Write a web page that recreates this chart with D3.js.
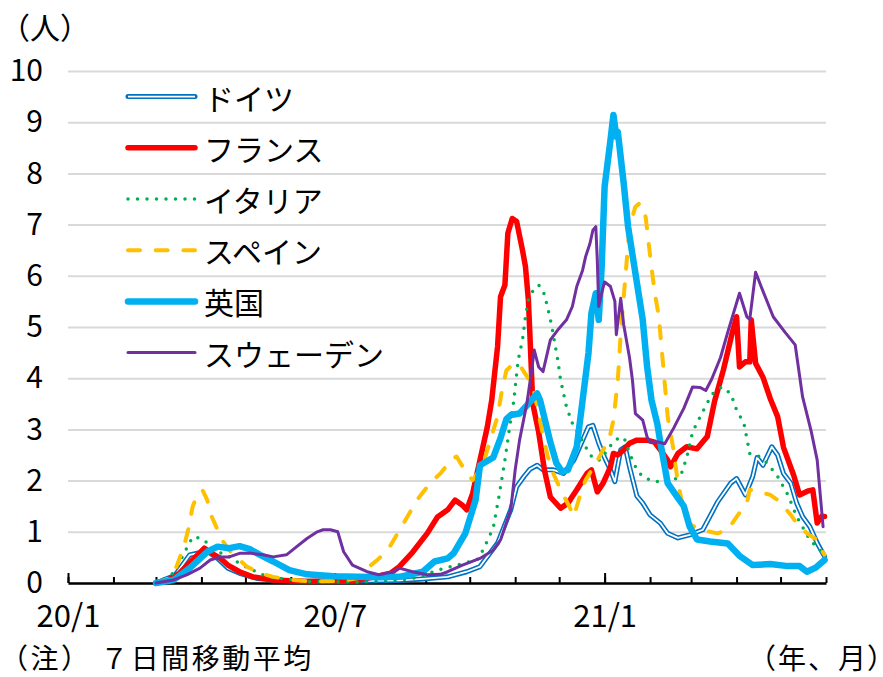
<!DOCTYPE html>
<html>
<head>
<meta charset="utf-8">
<script src="https://cdn.jsdelivr.net/npm/d3@7"></script>
<style>
  body { margin: 0; background: #fff; }
  svg text { font-family: "Noto Sans CJK JP", "Noto Sans", sans-serif; fill: #000; }
  .tight { font-feature-settings: "palt"; }
</style>
</head>
<body>
<div id="chart"></div>
<script>
// series names in legend / drawing order
var seriesNames = ["ドイツ", "フランス", "イタリア", "スペイン", "英国", "スウェーデン"];

// 7-day moving average, [date, value]
var germany = [["2020-03-01",0.00],["2020-03-14",0.15],["2020-03-24",0.55],["2020-03-29",0.58],["2020-04-05",0.62],["2020-04-12",0.48],["2020-04-19",0.29],["2020-04-27",0.19],["2020-05-09",0.09],["2020-05-31",0.04],["2020-07-05",0.03],["2020-08-14",0.05],["2020-08-30",0.08],["2020-09-16",0.12],["2020-09-29",0.22],["2020-10-08",0.32],["2020-10-20",0.78],["2020-10-29",1.43],["2020-11-02",1.88],["2020-11-07",2.08],["2020-11-11",2.22],["2020-11-16",2.30],["2020-11-20",2.21],["2020-11-27",2.21],["2020-12-04",2.14],["2020-12-11",2.40],["2020-12-17",2.79],["2020-12-21",3.05],["2020-12-24",3.08],["2020-12-28",2.73],["2021-01-01",2.45],["2021-01-05",2.21],["2021-01-08",1.98],["2021-01-12",2.60],["2021-01-15",2.66],["2021-01-18",2.27],["2021-01-23",1.70],["2021-01-27",1.56],["2021-02-01",1.33],["2021-02-08",1.17],["2021-02-13",0.97],["2021-02-20",0.88],["2021-02-28",0.94],["2021-03-09",1.04],["2021-03-19",1.58],["2021-03-28",1.95],["2021-04-01",2.04],["2021-04-07",1.72],["2021-04-12",2.08],["2021-04-15",2.45],["2021-04-19",2.30],["2021-04-25",2.66],["2021-04-29",2.50],["2021-05-03",2.14],["2021-05-08",1.95],["2021-05-12",1.56],["2021-05-16",1.30],["2021-05-21",1.10],["2021-05-26",0.78],["2021-05-31",0.52]];

var france = [["2020-03-01",0.00],["2020-03-09",0.05],["2020-03-17",0.19],["2020-03-28",0.51],["2020-04-03",0.68],["2020-04-08",0.58],["2020-04-14",0.48],["2020-04-19",0.35],["2020-04-27",0.22],["2020-05-06",0.12],["2020-05-20",0.06],["2020-06-12",0.03],["2020-07-16",0.05],["2020-07-31",0.14],["2020-08-08",0.19],["2020-08-14",0.32],["2020-08-23",0.60],["2020-09-02",0.97],["2020-09-09",1.29],["2020-09-16",1.43],["2020-09-21",1.62],["2020-09-26",1.52],["2020-09-29",1.43],["2020-10-03",1.75],["2020-10-08",2.40],["2020-10-13",3.05],["2020-10-16",3.57],["2020-10-20",4.62],["2020-10-22",5.59],["2020-10-25",5.82],["2020-10-27",6.83],["2020-10-30",7.12],["2020-11-02",7.06],["2020-11-06",6.50],["2020-11-08",6.18],["2020-11-10",5.53],["2020-11-11",4.88],["2020-11-13",3.50],["2020-11-17",2.95],["2020-11-21",2.20],["2020-11-25",1.68],["2020-12-02",1.46],["2020-12-07",1.56],["2020-12-13",1.82],["2020-12-20",2.14],["2020-12-23",2.21],["2020-12-27",1.78],["2020-12-31",1.95],["2021-01-05",2.27],["2021-01-07",2.53],["2021-01-10",2.50],["2021-01-14",2.60],["2021-01-18",2.73],["2021-01-23",2.79],["2021-01-30",2.79],["2021-02-04",2.75],["2021-02-08",2.60],["2021-02-13",2.40],["2021-02-15",2.27],["2021-02-20",2.53],["2021-02-26",2.66],["2021-03-05",2.62],["2021-03-12",2.86],["2021-03-17",3.55],["2021-03-23",4.16],["2021-03-29",4.88],["2021-04-01",5.20],["2021-04-03",4.22],["2021-04-07",4.32],["2021-04-10",4.32],["2021-04-11",5.14],["2021-04-14",4.29],["2021-04-19",4.02],["2021-04-24",3.60],["2021-04-29",3.25],["2021-05-03",2.65],["2021-05-10",2.10],["2021-05-14",1.72],["2021-05-20",1.80],["2021-05-23",1.82],["2021-05-26",1.17],["2021-05-29",1.30],["2021-05-31",1.30]];

var italy = [["2020-03-01",0.00],["2020-03-04",0.06],["2020-03-11",0.14],["2020-03-14",0.25],["2020-03-19",0.51],["2020-03-22",0.68],["2020-03-26",0.90],["2020-04-01",0.87],["2020-04-05",0.78],["2020-04-09",0.64],["2020-04-18",0.55],["2020-04-27",0.38],["2020-05-06",0.25],["2020-05-16",0.12],["2020-05-25",0.09],["2020-06-12",0.03],["2020-07-18",0.02],["2020-08-14",0.05],["2020-08-28",0.12],["2020-09-09",0.25],["2020-09-26",0.38],["2020-10-06",0.45],["2020-10-10",0.64],["2020-10-17",1.07],["2020-10-21",1.70],["2020-10-25",2.40],["2020-10-28",3.00],["2020-10-31",3.55],["2020-11-03",4.35],["2020-11-06",4.75],["2020-11-08",5.20],["2020-11-10",5.53],["2020-11-13",5.70],["2020-11-17",5.82],["2020-11-20",5.72],["2020-11-23",5.40],["2020-11-26",5.01],["2020-11-30",4.36],["2020-12-02",3.96],["2020-12-06",3.44],["2020-12-10",3.12],["2020-12-14",2.92],["2020-12-19",2.66],["2020-12-24",2.43],["2020-12-29",2.40],["2021-01-03",2.60],["2021-01-07",2.76],["2021-01-12",2.86],["2021-01-15",2.79],["2021-01-18",2.53],["2021-01-23",2.21],["2021-01-27",2.08],["2021-02-03",1.98],["2021-02-08",1.98],["2021-02-15",1.98],["2021-02-22",2.10],["2021-02-26",2.45],["2021-03-02",2.95],["2021-03-09",3.35],["2021-03-15",3.68],["2021-03-22",3.83],["2021-03-28",3.70],["2021-04-01",3.38],["2021-04-06",3.12],["2021-04-10",2.53],["2021-04-15",2.50],["2021-04-22",2.34],["2021-04-29",2.08],["2021-05-06",1.72],["2021-05-12",1.30],["2021-05-21",0.84],["2021-05-28",0.64],["2021-05-31",0.55]];

var spain = [["2020-03-01",0.00],["2020-03-11",0.10],["2020-03-15",0.32],["2020-03-20",0.71],["2020-03-23",1.04],["2020-03-26",1.49],["2020-03-30",1.78],["2020-04-02",1.80],["2020-04-05",1.62],["2020-04-07",1.36],["2020-04-10",1.17],["2020-04-15",0.84],["2020-04-20",0.64],["2020-04-27",0.45],["2020-05-02",0.32],["2020-05-11",0.19],["2020-05-20",0.12],["2020-06-02",0.06],["2020-06-16",0.03],["2020-07-05",0.04],["2020-07-16",0.09],["2020-07-23",0.29],["2020-07-30",0.45],["2020-08-06",0.64],["2020-08-17",1.17],["2020-08-26",1.62],["2020-09-04",1.95],["2020-09-11",2.14],["2020-09-19",2.43],["2020-09-22",2.47],["2020-09-29",2.14],["2020-10-03",2.01],["2020-10-10",2.30],["2020-10-15",2.79],["2020-10-20",3.25],["2020-10-23",3.77],["2020-10-26",4.15],["2020-10-31",4.29],["2020-11-04",4.26],["2020-11-08",4.08],["2020-11-13",3.86],["2020-11-16",3.44],["2020-11-19",3.02],["2020-11-23",2.50],["2020-11-27",2.14],["2020-12-02",1.82],["2020-12-08",1.49],["2020-12-11",1.30],["2020-12-15",1.69],["2020-12-19",2.01],["2020-12-26",2.34],["2020-12-31",2.60],["2021-01-04",2.79],["2021-01-07",3.18],["2021-01-10",3.96],["2021-01-12",4.88],["2021-01-15",5.92],["2021-01-18",6.96],["2021-01-22",7.35],["2021-01-25",7.42],["2021-01-29",7.15],["2021-02-01",6.40],["2021-02-04",5.70],["2021-02-07",5.20],["2021-02-09",4.55],["2021-02-11",3.90],["2021-02-13",3.25],["2021-02-17",2.60],["2021-02-20",1.95],["2021-02-24",1.43],["2021-02-28",1.15],["2021-03-07",1.04],["2021-03-19",0.97],["2021-03-26",1.04],["2021-04-02",1.33],["2021-04-08",1.56],["2021-04-10",1.82],["2021-04-17",1.78],["2021-04-24",1.72],["2021-04-30",1.60],["2021-05-08",1.33],["2021-05-12",1.17],["2021-05-19",0.97],["2021-05-26",0.84],["2021-05-29",0.64],["2021-05-31",0.55]];

var uk = [["2020-03-01",0.00],["2020-03-13",0.06],["2020-03-24",0.29],["2020-04-05",0.61],["2020-04-12",0.71],["2020-04-20",0.68],["2020-04-27",0.72],["2020-05-04",0.66],["2020-05-11",0.55],["2020-05-20",0.42],["2020-05-31",0.25],["2020-06-12",0.17],["2020-06-30",0.13],["2020-07-16",0.12],["2020-07-31",0.11],["2020-08-14",0.12],["2020-08-30",0.22],["2020-09-07",0.42],["2020-09-16",0.48],["2020-09-20",0.58],["2020-09-28",0.97],["2020-10-05",1.62],["2020-10-08",2.30],["2020-10-17",2.45],["2020-10-22",2.83],["2020-10-26",3.20],["2020-10-29",3.28],["2020-11-04",3.31],["2020-11-10",3.50],["2020-11-16",3.70],["2020-11-18",3.57],["2020-11-22",3.10],["2020-11-25",2.75],["2020-11-29",2.35],["2020-12-03",2.17],["2020-12-07",2.21],["2020-12-13",2.66],["2020-12-17",3.57],["2020-12-21",4.49],["2020-12-23",5.27],["2020-12-26",5.66],["2020-12-28",5.14],["2020-12-30",6.18],["2021-01-01",7.74],["2021-01-05",8.65],["2021-01-07",9.14],["2021-01-09",8.72],["2021-01-10",8.81],["2021-01-14",7.81],["2021-01-17",6.96],["2021-01-22",6.05],["2021-01-27",5.14],["2021-01-30",4.22],["2021-02-02",3.57],["2021-02-06",3.10],["2021-02-08",2.75],["2021-02-13",1.95],["2021-02-19",1.70],["2021-02-24",1.50],["2021-02-28",1.10],["2021-03-05",0.85],["2021-03-14",0.81],["2021-03-26",0.77],["2021-04-03",0.53],["2021-04-12",0.35],["2021-04-24",0.37],["2021-05-06",0.33],["2021-05-14",0.33],["2021-05-19",0.22],["2021-05-25",0.30],["2021-05-31",0.45]];

var sweden = [["2020-03-01",0.00],["2020-03-13",0.06],["2020-03-22",0.16],["2020-03-31",0.29],["2020-04-07",0.45],["2020-04-14",0.51],["2020-04-20",0.51],["2020-04-27",0.58],["2020-05-05",0.58],["2020-05-13",0.55],["2020-05-20",0.51],["2020-05-29",0.55],["2020-06-05",0.71],["2020-06-12",0.87],["2020-06-19",1.00],["2020-06-23",1.04],["2020-06-28",1.04],["2020-07-03",1.00],["2020-07-07",0.61],["2020-07-13",0.35],["2020-07-23",0.22],["2020-07-31",0.16],["2020-08-10",0.22],["2020-08-14",0.29],["2020-08-23",0.22],["2020-09-02",0.16],["2020-09-11",0.17],["2020-09-16",0.22],["2020-09-26",0.35],["2020-10-08",0.48],["2020-10-17",0.64],["2020-10-22",0.84],["2020-10-29",1.43],["2020-11-01",2.21],["2020-11-04",2.79],["2020-11-09",3.51],["2020-11-12",4.10],["2020-11-14",4.55],["2020-11-17",4.22],["2020-11-20",4.13],["2020-11-25",4.75],["2020-11-30",4.94],["2020-12-06",5.14],["2020-12-10",5.40],["2020-12-13",5.79],["2020-12-17",6.11],["2020-12-19",6.37],["2020-12-22",6.63],["2020-12-24",6.89],["2020-12-26",6.96],["2020-12-27",6.31],["2020-12-28",5.40],["2020-12-30",5.66],["2021-01-01",5.88],["2021-01-05",5.79],["2021-01-08",5.50],["2021-01-09",4.85],["2021-01-12",5.56],["2021-01-14",5.05],["2021-01-18",4.40],["2021-01-20",3.96],["2021-01-22",3.31],["2021-01-27",3.18],["2021-01-30",2.85],["2021-02-01",2.75],["2021-02-06",2.76],["2021-02-11",2.72],["2021-02-17",3.02],["2021-02-24",3.41],["2021-03-02",3.83],["2021-03-07",3.82],["2021-03-11",3.76],["2021-03-15",3.98],["2021-03-21",4.40],["2021-03-26",4.90],["2021-04-03",5.66],["2021-04-08",5.20],["2021-04-10",5.15],["2021-04-14",6.07],["2021-04-19",5.70],["2021-04-26",5.20],["2021-05-04",4.90],["2021-05-11",4.65],["2021-05-16",3.64],["2021-05-22",2.95],["2021-05-26",2.40],["2021-05-30",1.10]];

// axis labels
var yTicks = [0, 1, 2, 3, 4, 5, 6, 7, 8, 9, 10];
var xTickDates = ["2020-01-01", "2020-07-01", "2021-01-01"];
var xTickLabels = ["20/1", "20/7", "21/1"];

var width = 883, height = 677;
var svg = d3.select('#chart').append('svg').attr('width', width).attr('height', height);

var parse = d3.timeParse("%Y-%m-%d");
var x = d3.scaleTime().domain([parse("2020-01-01"), parse("2021-06-01")]).range([68, 826]);
var y = d3.scaleLinear().domain([0, 10]).range([583, 71]);

// gridlines and y labels
var gy = svg.append('g').attr('transform', 'translate(68,0)')
  .call(d3.axisLeft(y).tickValues(yTicks).tickSize(-(826 - 68)).tickPadding(25));
gy.select('.domain').remove();
gy.selectAll('.tick line').attr('stroke', '#d9d9d9').attr('stroke-width', 2);
gy.selectAll('.tick text').attr('font-size', 30);

// x axis: monthly minor ticks + labelled major ticks
var months = d3.timeMonth.range(parse("2020-01-01"), parse("2021-06-02"));
var gxMinor = svg.append('g').attr('transform', 'translate(0,583)')
  .call(d3.axisBottom(x).tickValues(months).tickSize(-6).tickSizeOuter(0).tickFormat(''));
gxMinor.select('.domain').attr('stroke', '#000').attr('stroke-width', 2.5);
gxMinor.selectAll('.tick line').attr('stroke', '#000').attr('stroke-width', 2);

var gxMajor = svg.append('g').attr('transform', 'translate(0,583)')
  .call(d3.axisBottom(x).tickValues(xTickDates.map(parse)).tickSize(-10).tickPadding(22)
    .tickFormat(function(d, i) { return xTickLabels[i]; }));
gxMajor.select('.domain').remove();
gxMajor.selectAll('.tick line').attr('stroke', '#000').attr('stroke-width', 2);
gxMajor.selectAll('.tick text').attr('font-size', 31);

// line styles per series
var styles = [
  {data: germany, color: '#0070c0', width: 5, double: true},
  {data: france, color: '#ff0000', width: 5.5},
  {data: italy, color: '#00b050', width: 3.5, dash: '0 9.5'},
  {data: spain, color: '#ffc000', width: 4, dash: '12 15.7'},
  {data: uk, color: '#00b0f0', width: 6.5},
  {data: sweden, color: '#7030a0', width: 3}
];

var line = d3.line()
  .x(function(d) { return x(parse(d[0])); })
  .y(function(d) { return y(d[1]); });

var plot = svg.append('g');
styles.forEach(function(s) {
  plot.append('path').attr('d', line(s.data))
    .attr('fill', 'none').attr('stroke', s.color).attr('stroke-width', s.width)
    .attr('stroke-linejoin', 'round').attr('stroke-linecap', 'round')
    .attr('stroke-dasharray', s.dash || null);
  if (s.double) {
    plot.append('path').attr('d', line(s.data))
      .attr('fill', 'none').attr('stroke', '#fff').attr('stroke-width', 1.8)
      .attr('stroke-linejoin', 'round');
  }
});

// legend
var legend = svg.append('g');
styles.forEach(function(s, i) {
  var ly = y(9.5 - i);
  legend.append('line').attr('x1', 128).attr('x2', 195).attr('y1', ly).attr('y2', ly)
    .attr('stroke', s.color).attr('stroke-width', s.width)
    .attr('stroke-linecap', 'round').attr('stroke-dasharray', s.dash || null);
  if (s.double) {
    legend.append('line').attr('x1', 128).attr('x2', 195).attr('y1', ly).attr('y2', ly)
      .attr('stroke', '#fff').attr('stroke-width', 1.8);
  }
  legend.append('text').attr('x', 204).attr('y', ly).attr('dominant-baseline', 'central')
    .attr('font-size', 30).text(seriesNames[i]);
});

// unit and notes
svg.append('text').attr('x', 0).attr('y', 26).attr('dominant-baseline', 'central')
  .attr('font-size', 30).text('（人）');
svg.append('text').attr('x', 0).attr('y', 668.5).attr('letter-spacing', 2.5)
  .attr('font-size', 28).text('（注） ７日間移動平均');
var unitX = svg.append('text').attr('x', 748).attr('y', 668.5).attr('font-size', 28);
unitX.append('tspan').attr('letter-spacing', 2).text('（年、月');
unitX.append('tspan').attr('class', 'tight').text('）');
</script>
</body>
</html>
